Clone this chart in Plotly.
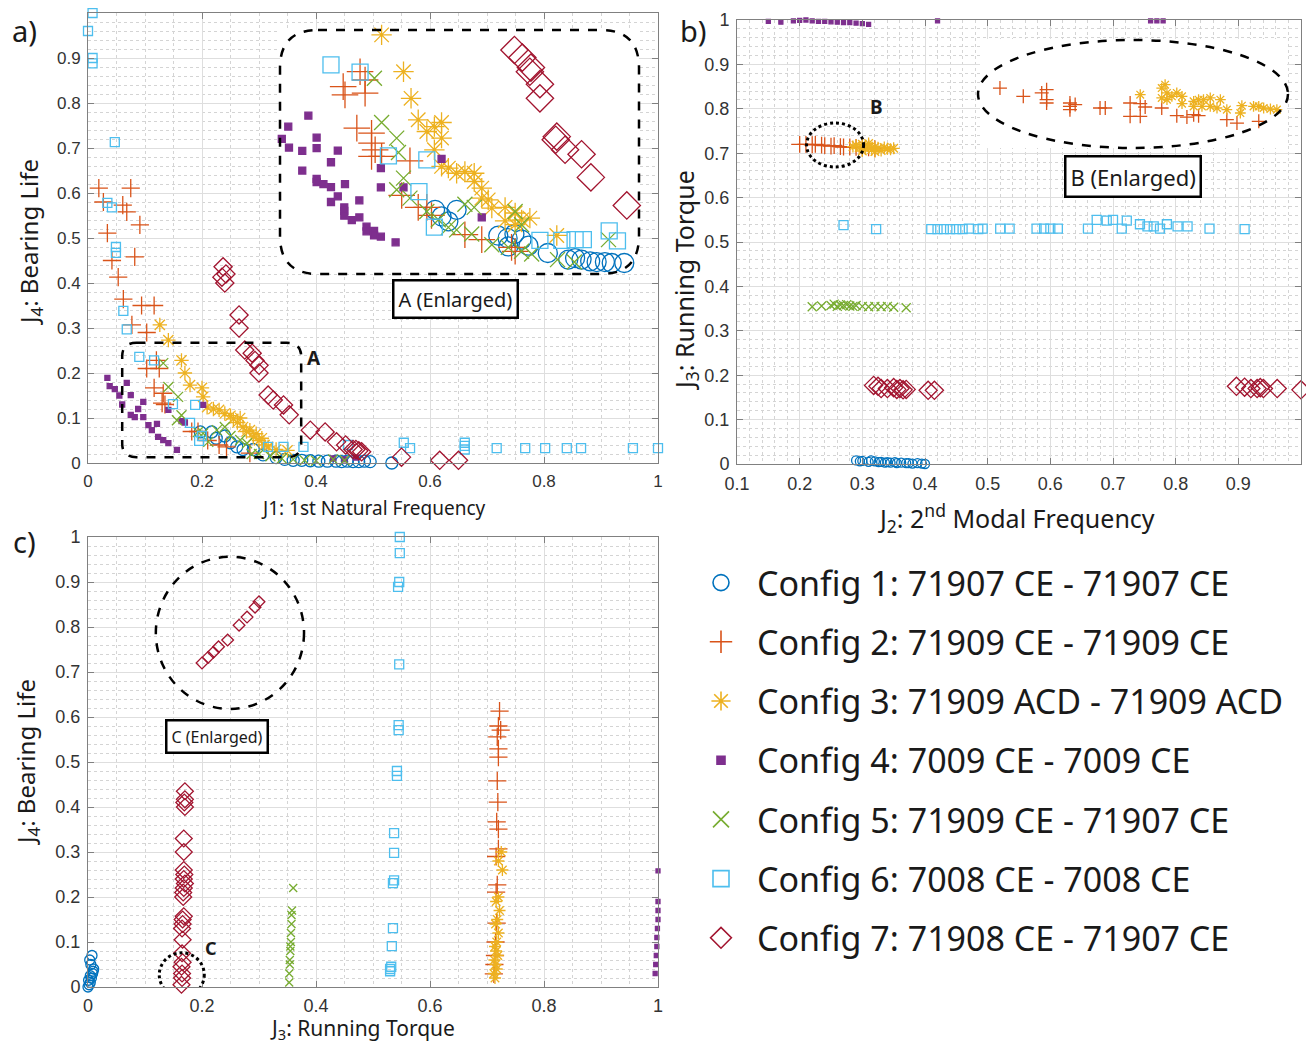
import plotly.graph_objects as go

# ---------------- colours / names ----------------
NAMES = ["Config 1: 71907 CE - 71907 CE", "Config 2: 71909 CE - 71909 CE",
         "Config 3: 71909 ACD - 71909 ACD", "Config 4: 7009 CE - 7009 CE",
         "Config 5: 71909 CE - 71907 CE", "Config 6: 7008 CE - 7008 CE",
         "Config 7: 71908 CE - 71907 CE"]
COLORS = ["#0072BD", "#D95319", "#EDB120", "#7E2F8E", "#77AC30", "#4DBEEE", "#A2142F"]
SYMBOLS = ["circle-open", "cross-thin-open", "asterisk-open", "square", "x-thin-open", "square-open", "diamond-open"]

# ---------------- panel a: J1 vs J4 ----------------
a1_x = [0.197,0.217,0.225,0.24,0.25,0.261,0.272,0.29,0.307,0.33,0.345,0.36,0.375,0.39,0.405,0.42,0.435,0.445,0.455,0.465,0.475,0.485,0.495,0.533]
a1_y = [0.069,0.069,0.055,0.06,0.045,0.036,0.03,0.03,0.018,0.012,0.008,0.006,0.006,0.005,0.004,0.004,0.004,0.003,0.004,0.003,0.003,0.004,0.003,0.0]
a2_x = [0.019,0.075,0.027,0.061,0.068,0.091,0.034,0.042,0.082,0.053,0.062,0.094,0.116,0.077,0.103,0.103,0.125,0.12,0.116,0.132,0.13,0.135,0.182,0.193,0.21,0.23,0.243,0.284]
a2_y = [0.611,0.611,0.58,0.573,0.558,0.529,0.511,0.45,0.458,0.413,0.364,0.35,0.35,0.307,0.29,0.21,0.21,0.228,0.167,0.155,0.133,0.13,0.07,0.07,0.05,0.04,0.036,0.022]
a3_x = [0.126,0.141,0.164,0.17,0.179,0.2,0.202,0.209,0.22,0.23,0.24,0.25,0.255,0.262,0.267,0.272,0.278,0.284,0.29,0.295,0.30,0.305,0.31,0.316,0.33,0.35]
a3_y = [0.307,0.273,0.228,0.2,0.173,0.167,0.147,0.124,0.12,0.118,0.11,0.105,0.098,0.09,0.1,0.08,0.07,0.073,0.058,0.065,0.05,0.055,0.04,0.036,0.03,0.028]
a4_x = [0.034,0.038,0.047,0.055,0.06,0.068,0.075,0.075,0.082,0.088,0.097,0.097,0.106,0.112,0.121,0.123,0.132,0.141,0.141,0.156,0.164,0.17,0.202,0.43,0.45,0.47]
a4_y = [0.189,0.171,0.164,0.15,0.13,0.178,0.151,0.107,0.102,0.12,0.136,0.102,0.084,0.073,0.087,0.058,0.051,0.044,0.118,0.029,0.093,0.09,0.129,0.01,0.008,0.012]
a5_x = [0.132,0.141,0.158,0.164,0.156,0.193,0.202,0.226,0.211,0.24,0.25,0.267,0.279,0.287,0.30,0.32,0.34,0.36,0.38,0.40,0.43,0.45]
a5_y = [0.222,0.169,0.147,0.106,0.095,0.069,0.066,0.073,0.047,0.08,0.06,0.051,0.044,0.02,0.02,0.015,0.01,0.008,0.006,0.005,0.008,0.006]
a6_x = [0.008,0.0,0.008,0.008,0.047,0.034,0.042,0.049,0.049,0.062,0.068,0.09,0.116,0.149,0.188,0.179,0.195,0.2,0.316,0.343,0.378,0.456,0.554,0.565,0.661,0.661,0.661,0.717,0.767,0.802,0.84,0.865,0.956,1.0]
a6_y = [1.0,0.96,0.9,0.888,0.713,0.578,0.568,0.48,0.467,0.338,0.297,0.236,0.228,0.131,0.129,0.089,0.049,0.06,0.036,0.036,0.036,0.04,0.045,0.033,0.045,0.038,0.03,0.033,0.033,0.033,0.033,0.033,0.033,0.033]
a7_x = [0.237,0.242,0.235,0.24,0.265,0.265,0.275,0.288,0.293,0.3,0.3,0.316,0.325,0.343,0.353,0.39,0.416,0.436,0.452,0.465,0.47,0.475,0.48,0.55,0.617,0.65]
a7_y = [0.436,0.42,0.413,0.40,0.329,0.30,0.251,0.244,0.228,0.217,0.2,0.151,0.14,0.129,0.107,0.073,0.069,0.047,0.04,0.03,0.03,0.027,0.025,0.013,0.006,0.006]

# ---------------- inset A (own normalised coordinates 0..1) ----------------
ia1_x = [0.432,0.45,0.469,0.492,0.608,0.634,0.653,0.673,0.692,0.746,0.803,0.822,0.84,0.864,0.882,0.905,0.924,0.959,0.636]
ia1_y = [0.263,0.236,0.216,0.263,0.157,0.147,0.164,0.141,0.116,0.086,0.059,0.065,0.059,0.052,0.049,0.049,0.045,0.045,0.113]
ia2_x = [0.223,0.237,0.176,0.181,0.237,0.214,0.255,0.255,0.265,0.255,0.283,0.362,0.339,0.385,0.409,0.422,0.515,0.562,0.645,0.655]
ia2_y = [0.829,0.795,0.768,0.734,0.741,0.598,0.577,0.536,0.509,0.482,0.482,0.464,0.322,0.273,0.273,0.24,0.161,0.141,0.109,0.093]
ia3_x = [0.283,0.344,0.365,0.385,0.409,0.43,0.45,0.45,0.43,0.45,0.469,0.492,0.515,0.541,0.541,0.562,0.562,0.58,0.59,0.627,0.655,0.673,0.696,0.627,0.655,0.771]
ia3_y = [0.98,0.829,0.72,0.632,0.584,0.604,0.621,0.557,0.509,0.441,0.434,0.413,0.42,0.413,0.379,0.352,0.311,0.304,0.27,0.273,0.25,0.222,0.229,0.218,0.202,0.158]
ia4_x = [0.079,0.023,0.005,0.025,0.102,0.102,0.062,0.161,0.142,0.062,0.102,0.102,0.121,0.142,0.181,0.161,0.142,0.221,0.179,0.179,0.179,0.2,0.221,0.241,0.241,0.262,0.262,0.281,0.322,0.281,0.281,0.344,0.45,0.562]
ia4_y = [0.649,0.604,0.554,0.518,0.559,0.516,0.505,0.506,0.458,0.424,0.39,0.377,0.368,0.356,0.368,0.318,0.295,0.302,0.273,0.259,0.239,0.221,0.232,0.194,0.175,0.177,0.158,0.153,0.13,0.434,0.355,0.355,0.472,0.232]
ia5_x = [0.263,0.283,0.325,0.33,0.344,0.325,0.362,0.409,0.441,0.469,0.492,0.534,0.515,0.541,0.59,0.636,0.673,0.701,0.773,0.82,0.915,0.655,0.673]
ia5_y = [0.802,0.621,0.557,0.498,0.393,0.345,0.311,0.256,0.222,0.191,0.181,0.164,0.286,0.273,0.12,0.109,0.093,0.082,0.059,0.049,0.141,0.256,0.202]
ia6_x = [0.142,0.223,0.302,0.409,0.387,0.43,0.724,0.785,0.822,0.845,0.917,0.94]
ia6_y = [0.857,0.827,0.484,0.468,0.338,0.192,0.138,0.138,0.141,0.141,0.177,0.136]
ia7_x = [0.653,0.675,0.699,0.696,0.724,0.724,0.771,0.768,0.794,0.84,0.866,0.966]
ia7_y = [0.918,0.887,0.846,0.829,0.778,0.72,0.563,0.55,0.509,0.491,0.396,0.281]

# ---------------- panel b: J2 vs J3 ----------------
b1_x = [0.29,0.296,0.30,0.31,0.314,0.32,0.326,0.33,0.336,0.34,0.345,0.352,0.355,0.362,0.37,0.374,0.38,0.388,0.395,0.40]
b1_y = [0.008,0.006,0.007,0.005,0.008,0.006,0.004,0.005,0.003,0.004,0.003,0.004,0.002,0.003,0.002,0.002,0.001,0.002,0.001,0.0]
b2_x = [0.20,0.21,0.22,0.225,0.235,0.24,0.25,0.255,0.265,0.27,0.28,0.29,0.30,0.31,0.32]
b2_y = [0.72,0.72,0.719,0.72,0.718,0.717,0.716,0.717,0.715,0.714,0.714,0.713,0.712,0.712,0.71]
b3_x = [0.285,0.29,0.295,0.30,0.305,0.31,0.315,0.32,0.325,0.33,0.335,0.34,0.345,0.35,0.30,0.31,0.32]
b3_y = [0.715,0.718,0.712,0.72,0.71,0.716,0.708,0.714,0.712,0.706,0.713,0.71,0.709,0.711,0.705,0.722,0.704]
b4_x = [0.15,0.17,0.19,0.20,0.21,0.22,0.23,0.24,0.25,0.26,0.27,0.28,0.29,0.30,0.31,0.42,0.76,0.77,0.78]
b4_y = [0.997,0.995,0.998,0.999,1.0,0.998,0.997,0.997,0.996,0.995,0.994,0.994,0.993,0.992,0.99,0.998,0.998,0.998,0.998]
b5_x = [0.22,0.235,0.25,0.255,0.26,0.265,0.27,0.275,0.28,0.285,0.29,0.30,0.31,0.32,0.33,0.34,0.35,0.37]
b5_y = [0.354,0.356,0.357,0.36,0.355,0.358,0.357,0.359,0.356,0.355,0.357,0.355,0.354,0.355,0.354,0.355,0.353,0.352]
b6_x = [0.27,0.322,0.41,0.42,0.43,0.44,0.45,0.46,0.47,0.485,0.492,0.52,0.535,0.578,0.59,0.60,0.612,0.66,0.674,0.69,0.70,0.722,0.714,0.743,0.755,0.765,0.775,0.786,0.803,0.819,0.854,0.91]
b6_y = [0.538,0.529,0.529,0.529,0.529,0.529,0.529,0.529,0.53,0.529,0.53,0.53,0.53,0.53,0.53,0.53,0.53,0.53,0.55,0.548,0.55,0.548,0.53,0.54,0.535,0.535,0.53,0.54,0.535,0.535,0.53,0.529]
b7_x = [0.318,0.325,0.33,0.34,0.35,0.355,0.36,0.365,0.37,0.405,0.415,0.897,0.91,0.92,0.93,0.935,0.94,0.962,1.0]
b7_y = [0.177,0.175,0.17,0.17,0.172,0.168,0.17,0.167,0.168,0.166,0.166,0.175,0.173,0.17,0.17,0.172,0.17,0.17,0.167]

# ---------------- inset B (own normalised coordinates 0..1) ----------------
ib2_x = [0.065,0.141,0.201,0.217,0.217,0.217,0.293,0.293,0.293,0.31,0.391,0.408,0.489,0.522,0.538,0.489,0.522,0.592,0.641,0.674,0.696,0.712,0.804,0.837,0.908]
ib2_y = [0.55,0.474,0.505,0.535,0.443,0.413,0.413,0.382,0.352,0.398,0.367,0.367,0.413,0.407,0.376,0.291,0.291,0.367,0.297,0.284,0.306,0.297,0.26,0.229,0.245]
ib3_x = [0.522,0.592,0.603,0.609,0.592,0.625,0.641,0.658,0.658,0.696,0.712,0.728,0.75,0.75,0.783,0.772,0.804,0.853,0.848,0.891,0.908,0.924,0.946,0.967,0.696,0.723,0.609]
ib3_y = [0.489,0.55,0.581,0.505,0.459,0.474,0.505,0.474,0.407,0.428,0.443,0.443,0.459,0.382,0.443,0.367,0.352,0.388,0.321,0.382,0.382,0.367,0.358,0.352,0.382,0.382,0.443]

# ---------------- panel c: J3 vs J4 ----------------
c1_x = [0.0,0.002,0.004,0.006,0.008,0.01,0.005,0.003,0.007,0.009,0.001,0.004]
c1_y = [0.0,0.005,0.01,0.02,0.03,0.04,0.05,0.06,0.07,0.035,0.015,0.025]
c2_x = [0.722,0.72,0.724,0.718,0.72,0.72,0.718,0.719,0.717,0.72,0.72,0.716,0.718,0.716,0.717,0.715,0.714,0.712,0.713]
c2_y = [0.613,0.58,0.571,0.556,0.529,0.511,0.458,0.411,0.367,0.351,0.307,0.29,0.227,0.211,0.142,0.10,0.07,0.029,0.05]
c3_x = [0.725,0.72,0.727,0.72,0.716,0.722,0.718,0.715,0.72,0.717,0.714,0.716,0.719,0.713,0.715,0.717,0.712,0.714]
c3_y = [0.3,0.28,0.26,0.2,0.19,0.17,0.15,0.14,0.12,0.1,0.09,0.08,0.07,0.06,0.05,0.04,0.03,0.02]
c4_x = [0.995,0.996,0.997,0.998,0.998,0.999,1.0,1.0,1.0,1.0]
c4_y = [0.03,0.05,0.07,0.09,0.11,0.13,0.15,0.17,0.19,0.258]
c5_x = [0.36,0.358,0.357,0.357,0.356,0.356,0.355,0.355,0.354,0.354,0.353,0.353]
c5_y = [0.22,0.17,0.16,0.14,0.12,0.1,0.09,0.08,0.06,0.05,0.03,0.01]
c6_x = [0.547,0.547,0.546,0.544,0.546,0.545,0.545,0.542,0.542,0.537,0.537,0.537,0.535,0.535,0.533,0.532,0.53,0.53]
c6_y = [1.0,0.964,0.90,0.889,0.717,0.582,0.571,0.48,0.469,0.342,0.298,0.237,0.231,0.131,0.091,0.045,0.04,0.035]
c7_x = [0.17,0.17,0.169,0.17,0.168,0.168,0.168,0.169,0.168,0.17,0.168,0.167,0.167,0.168,0.166,0.166,0.165,0.166,0.165,0.166,0.164,0.165,0.165,0.164]
c7_y = [0.435,0.417,0.41,0.40,0.33,0.30,0.26,0.25,0.24,0.23,0.22,0.21,0.2,0.157,0.15,0.14,0.13,0.105,0.075,0.055,0.045,0.03,0.02,0.005]
ic7_x = [0.2,0.211,0.22,0.229,0.245,0.265,0.279,0.293,0.3]
ic7_y = [0.72,0.733,0.744,0.756,0.771,0.804,0.822,0.844,0.856]

# page = 8px body margin + figure
W, H = 1298, 1040
def PX(p): return (p - 8) / W
def PY(p): return 1 - (p - 8) / H

fig = go.Figure()

def add(xs, ys, k, xa, ya, size, lw=1.3):
    fig.add_trace(go.Scatter(
        x=xs, y=ys, mode="markers", name=NAMES[k], legendgroup=NAMES[k], showlegend=False,
        xaxis=xa, yaxis=ya, cliponaxis=False, hoverinfo="skip",
        marker=dict(symbol=SYMBOLS[k], size=size, color=COLORS[k],
                    line=dict(color=COLORS[k], width=lw))))

# legend entries
leg_sizes = [20, 22, 20, 8, 18, 16, 22]
for k in range(7):
    fig.add_trace(go.Scatter(
        x=[None], y=[None], mode="markers", name=NAMES[k], legendgroup=NAMES[k],
        showlegend=True, xaxis="x", yaxis="y",
        marker=dict(symbol=SYMBOLS[k], size=leg_sizes[k], color=COLORS[k],
                    line=dict(color=COLORS[k], width=1.6))))

# panel a
sa = [12, 13, 12, 5, 10, 9, 14]
for k, (xs, ys) in enumerate([(a1_x, a1_y), (a2_x, a2_y), (a3_x, a3_y), (a4_x, a4_y),
                              (a5_x, a5_y), (a6_x, a6_y), (a7_x, a7_y)]):
    add(xs, ys, k, "x", "y", sa[k])
# inset A
si = [19, 19, 17, 7, 15, 16, 21]
for k, (xs, ys) in enumerate([(ia1_x, ia1_y), (ia2_x, ia2_y), (ia3_x, ia3_y), (ia4_x, ia4_y),
                              (ia5_x, ia5_y), (ia6_x, ia6_y), (ia7_x, ia7_y)]):
    add(xs, ys, k, "x4", "y4", si[k])
# panel b
sb = [9, 12, 10, 4, 9, 9, 14]
for k, (xs, ys) in enumerate([(b1_x, b1_y), (b2_x, b2_y), (b3_x, b3_y), (b4_x, b4_y),
                              (b5_x, b5_y), (b6_x, b6_y), (b7_x, b7_y)]):
    add(xs, ys, k, "x2", "y2", sb[k])
# inset B
add(ib2_x, ib2_y, 1, "x5", "y5", 10)
add(ib3_x, ib3_y, 2, "x5", "y5", 9)
# panel c
sc = [10, 13, 10, 4, 8, 9, 13]
for k, (xs, ys) in enumerate([(c1_x, c1_y), (c2_x, c2_y), (c3_x, c3_y), (c4_x, c4_y),
                              (c5_x, c5_y), (c6_x, c6_y), (c7_x, c7_y)]):
    add(xs, ys, k, "x3", "y3", sc[k])
add(ic7_x, ic7_y, 6, "x3", "y3", 9)

def axis(rng, dtick, mdtick, dom, anchor, fs, standoff):
    return dict(range=rng, domain=dom, anchor=anchor, dtick=dtick, tick0=0,
                showgrid=True, gridcolor="#DEDEDE", gridwidth=1, zeroline=False,
                showline=True, linecolor="#808080", linewidth=1, mirror="ticks",
                ticks="inside", ticklen=6, tickcolor="#808080", automargin=False,
                ticklabelstandoff=standoff,
                tickfont=dict(family="Liberation Sans", size=fs, color="#333333"),
                minor=dict(dtick=mdtick, showgrid=True, gridcolor="#D4D4D4",
                           griddash="dot", gridwidth=1, ticks=""),
                fixedrange=True)

xa_dom = [PX(88), PX(658)]
layout = dict(
    width=W, height=H, margin=dict(l=0, r=0, t=0, b=0, autoexpand=False),
    paper_bgcolor="white", plot_bgcolor="white", showlegend=True,
    xaxis=axis([0, 1], 0.2, 0.05, xa_dom, "y", 17, 3),
    yaxis=axis([0, 1], 0.1, 0.02, [PY(463), PY(13)], "x", 17, 3),
    xaxis2=axis([0.1, 1], 0.1, 0.02, [PX(737), PX(1301)], "y2", 18, 3),
    yaxis2=axis([0, 1], 0.1, 0.02, [PY(464), PY(20)], "x2", 18, 3),
    xaxis3=axis([0, 1], 0.2, 0.05, xa_dom, "y3", 18, 2),
    yaxis3=axis([0, 1], 0.1, 0.02, [PY(987), PY(537)], "x3", 18, 3),
    xaxis4=dict(range=[0, 1], domain=[PX(280), PX(639)], anchor="y4", visible=False, fixedrange=True),
    yaxis4=dict(range=[0, 1], domain=[PY(274), PY(30)], anchor="x4", visible=False, fixedrange=True),
    xaxis5=dict(range=[0, 1], domain=[PX(980), PX(1287)], anchor="y5", visible=False, fixedrange=True),
    yaxis5=dict(range=[0, 1], domain=[PY(148), PY(39)], anchor="x5", visible=False, fixedrange=True),
    legend=dict(x=PX(685), y=PY(554), xanchor="left", yanchor="top",
                font=dict(family="Noto Sans", size=34, color="#1a1a1a"),
                tracegroupgap=12, itemsizing="trace", itemwidth=62,
                bgcolor="rgba(0,0,0,0)", traceorder="grouped"),
)
fig.update_layout(**layout)

def rounded(x0, y0, x1, y1, rx, ry):
    return (f"M {x0+rx},{y1} L {x1-rx},{y1} Q {x1},{y1} {x1},{y1-ry} "
            f"L {x1},{y0+ry} Q {x1},{y0} {x1-rx},{y0} L {x0+rx},{y0} "
            f"Q {x0},{y0} {x0},{y0+ry} L {x0},{y1-ry} Q {x0},{y1} {x0+rx},{y1} Z")

shapes = [
    dict(type="path", xref="paper", yref="paper",
         path=rounded(PX(280), PY(274), PX(639), PY(30), 38 / W, 38 / H),
         line=dict(color="black", width=2.5, dash="dash")),
    dict(type="path", xref="x", yref="y",
         path=rounded(0.06, 0.013, 0.374, 0.267, 0.025, 0.03),
         line=dict(color="black", width=2.5, dash="dash")),
    dict(type="circle", xref="paper", yref="paper", x0=PX(978), x1=PX(1288), y0=PY(148), y1=PY(40),
         line=dict(color="black", width=2.5, dash="dash")),
    dict(type="circle", xref="x2", yref="y2", x0=0.211, x1=0.302, y0=0.669, y1=0.768,
         line=dict(color="black", width=3, dash="dot")),
    dict(type="circle", xref="x3", yref="y3", x0=0.119, x1=0.379, y0=0.618, y1=0.956,
         line=dict(color="black", width=2.5, dash="dash")),
    dict(type="circle", xref="x3", yref="y3", x0=0.125, x1=0.204, y0=-0.022, y1=0.076,
         line=dict(color="black", width=3, dash="dot")),
]
fig.update_layout(shapes=shapes)

TF = "Noto Sans"
ann = []
def text(x, y, s, size, bold=False, angle=0, box=False, color="#1a1a1a"):
    d = dict(x=PX(x), y=PY(y), xref="paper", yref="paper", text=(f"<b>{s}</b>" if bold else s),
             showarrow=False, textangle=angle, xanchor="center", yanchor="middle",
             font=dict(family=TF, size=size, color=color))
    if box:
        d.update(bordercolor="black", borderwidth=2.5, borderpad=4, bgcolor="white")
    ann.append(d)

text(24, 30, "a)", 29)
text(693, 30, "b)", 29)
text(24, 541, "c)", 29)
text(30, 242, "J<sub>4</sub>: Bearing Life", 24, angle=-90)
text(373, 508, "J1: 1st Natural Frequency", 19)
text(686, 280, "J<sub>3</sub>: Running Torque", 25, angle=-90)
text(1016, 518, "J<sub>2</sub>: 2<sup>nd</sup> Modal Frequency", 25)
text(27, 762, "J<sub>4</sub>: Bearing Life", 24, angle=-90)
text(362, 1029, "J<sub>3</sub>: Running Torque", 21)
text(455, 299, "A (Enlarged)", 20, box=True)
text(1133, 177, "B (Enlarged)", 22, box=True)
text(217, 736, "C (Enlarged)", 16, box=True)
text(314, 358, "A", 19, bold=True)
text(876, 107, "B", 19, bold=True)
text(211, 948, "C", 18, bold=True)
fig.update_layout(annotations=ann)

fig.write_html("out.html")
